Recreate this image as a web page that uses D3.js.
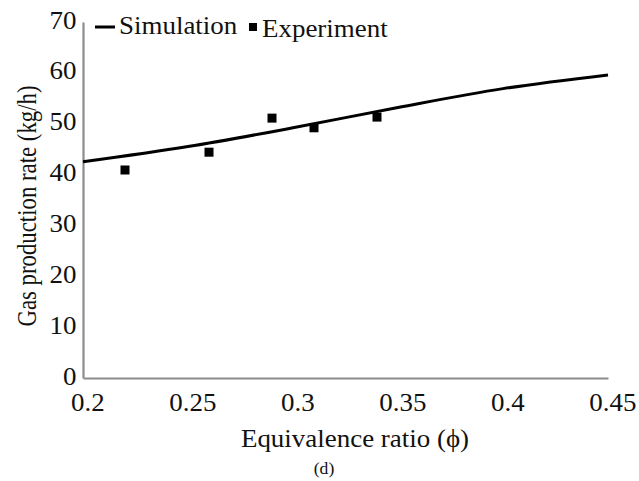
<!DOCTYPE html>
<html>
<head>
<meta charset="utf-8">
<script src="https://cdn.jsdelivr.net/npm/d3@7"></script>
<style>
  html, body { margin: 0; padding: 0; background: #fff; }
</style>
</head>
<body>
<svg id="chart" width="639" height="481"></svg>
<script>
// Data
const simPhi = [0.2, 0.25, 0.3, 0.35, 0.4, 0.45];
const simRate = [42.5, 45.5, 49.2, 53.2, 56.9, 59.6];
const expPhi = [0.22, 0.26, 0.29, 0.31, 0.34];
const expRate = [40.9, 44.4, 51.1, 49.2, 51.3];
const xTicks = [0.2, 0.25, 0.3, 0.35, 0.4, 0.45];
const yTicks = [0, 10, 20, 30, 40, 50, 60, 70];
const seriesNames = ["Simulation", "Experiment"];

(function () {
const FONT = '"Liberation Serif", "Times New Roman", serif';
const FS = 24.5;
const SX = 1.1; // horizontal stretch of the reference text
const svg = d3.select("#chart");
const mLeft = 83, mRight = 608, mTop = 22, mBottom = 378;

const x = d3.scaleLinear().domain([0.2, 0.45]).range([mLeft, mRight]);
const y = d3.scaleLinear().domain([0, 70]).range([mBottom, mTop]);

// Axes
const xAxis = d3.axisBottom(x).tickValues(xTicks).tickSize(0).tickPadding(0)
  .tickFormat(d => String(+d.toFixed(2)));
const gx = svg.append("g").attr("transform", `translate(0,${mBottom})`).call(xAxis);
gx.attr("font-family", null).attr("font-size", null);
gx.select(".domain").attr("stroke", "#8c8c8c").attr("stroke-width", 2.2);
gx.selectAll(".tick text")
  .style("font-family", FONT).style("font-size", FS + "px").attr("fill", "#111")
  .attr("dy", null).attr("y", 33).attr("dx", 4)
  .attr("transform", `scale(${SX},1)`);

const yAxis = d3.axisLeft(y).tickValues(yTicks).tickSize(0).tickPadding(0);
const gy = svg.append("g").attr("transform", `translate(${mLeft},0)`).call(yAxis);
gy.attr("font-family", null).attr("font-size", null);
gy.select(".domain").attr("stroke", "#8c8c8c").attr("stroke-width", 2.2);
gy.selectAll(".tick text")
  .style("font-family", FONT).style("font-size", FS + "px").attr("fill", "#111")
  .attr("x", -6).attr("dy", "0.25em")
  .attr("transform", `scale(${SX},1)`);

// Simulation line
const simData = simPhi.map((p, i) => ({ p, v: simRate[i] }));
svg.append("path")
  .datum(simData)
  .attr("fill", "none")
  .attr("stroke", "#000")
  .attr("stroke-width", 3)
  .attr("d", d3.line().x(d => x(d.p)).y(d => y(d.v)).curve(d3.curveMonotoneX));

// Experiment markers
const expData = expPhi.map((p, i) => ({ p, v: expRate[i] }));
svg.selectAll("rect.exp")
  .data(expData)
  .enter().append("rect")
  .attr("class", "exp")
  .attr("x", d => x(d.p) - 4.5)
  .attr("y", d => y(d.v) - 4.5)
  .attr("width", 9).attr("height", 9)
  .attr("fill", "#000");

function txt(xp, yp, s, size, anchor) {
  return svg.append("text")
    .attr("transform", `translate(${xp},${yp}) scale(${SX},1)`)
    .attr("text-anchor", anchor || "start")
    .style("font-family", FONT).style("font-size", size + "px")
    .attr("fill", "#111").text(s);
}

// Legend
svg.append("line").attr("x1", 95).attr("x2", 115).attr("y1", 27).attr("y2", 27)
  .attr("stroke", "#000").attr("stroke-width", 3);
txt(119, 34, seriesNames[0], FS);
svg.append("rect").attr("x", 249).attr("y", 23).attr("width", 8).attr("height", 8).attr("fill", "#000");
txt(262, 37, seriesNames[1], FS);

// Axis titles
svg.append("text")
  .attr("transform", "translate(36,206) rotate(-90) scale(1,1.18)")
  .attr("text-anchor", "middle")
  .style("font-family", FONT).style("font-size", "22.8px")
  .attr("fill", "#111").text("Gas production rate (kg/h)");
txt(355, 447, "Equivalence ratio (ϕ)", FS, "middle");
txt(324, 474, "(d)", 16, "middle");
})();
</script>
</body>
</html>
